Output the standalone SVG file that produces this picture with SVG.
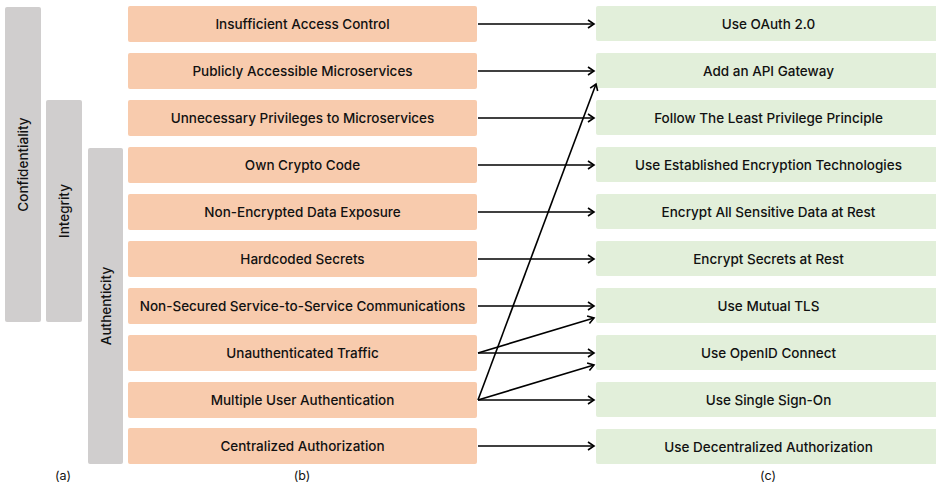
<svg xmlns="http://www.w3.org/2000/svg" width="936" height="488" viewBox="0 0 936 488">
<style>
.bar{fill:#d0cece}
.lb{fill:#f8cbad}
.rb{fill:#e2efda}
.t{font-family:Inter,Lato,"Liberation Sans",sans-serif;font-size:13.5px;font-weight:500;fill:#111;text-anchor:middle;dominant-baseline:central}
.cap{font-family:Inter,Lato,"Liberation Sans",sans-serif;font-size:12.5px;fill:#111;text-anchor:middle}
.c line{stroke:#000;stroke-width:1.6;marker-end:url(#ah)}
</style>
<defs>
<marker id="ah" markerUnits="userSpaceOnUse" markerWidth="12" markerHeight="12" refX="7" refY="5" orient="auto" viewBox="0 0 12 12">
<path d="M1,1 L7,5 L1,9" fill="none" stroke="#000" stroke-width="1.6"/>
</marker>
</defs>
<rect width="936" height="488" fill="#fff"/>
<g id="confidentiality"><rect class="bar" x="5" y="7" width="36" height="315" rx="2"/><text class="t" transform="translate(23,164.5) rotate(-90)">Confidentiality</text></g>
<g id="integrity"><rect class="bar" x="46" y="100" width="36" height="222" rx="2"/><text class="t" transform="translate(64,211) rotate(-90)">Integrity</text></g>
<g id="authenticity"><rect class="bar" x="88" y="148" width="35" height="316" rx="2"/><text class="t" transform="translate(105.5,306) rotate(-90)">Authenticity</text></g>

<g id="p1"><rect class="lb" x="128" y="6" width="349" height="36" rx="2"/><text class="t" x="302.5" y="24">Insufficient Access Control</text></g>
<g id="p2"><rect class="lb" x="128" y="53" width="349" height="36" rx="2"/><text class="t" x="302.5" y="71">Publicly Accessible Microservices</text></g>
<g id="p3"><rect class="lb" x="128" y="100" width="349" height="36" rx="2"/><text class="t" x="302.5" y="118">Unnecessary Privileges to Microservices</text></g>
<g id="p4"><rect class="lb" x="128" y="147" width="349" height="36" rx="2"/><text class="t" x="302.5" y="165">Own Crypto Code</text></g>
<g id="p5"><rect class="lb" x="128" y="194" width="349" height="36" rx="2"/><text class="t" x="302.5" y="212">Non-Encrypted Data Exposure</text></g>
<g id="p6"><rect class="lb" x="128" y="241" width="349" height="36" rx="2"/><text class="t" x="302.5" y="259">Hardcoded Secrets</text></g>
<g id="p7"><rect class="lb" x="128" y="288" width="349" height="36" rx="2"/><text class="t" x="302.5" y="306">Non-Secured Service-to-Service Communications</text></g>
<g id="p8"><rect class="lb" x="128" y="335" width="349" height="36" rx="2"/><text class="t" x="302.5" y="353">Unauthenticated Traffic</text></g>
<g id="p9"><rect class="lb" x="128" y="382" width="349" height="36" rx="2"/><text class="t" x="302.5" y="400">Multiple User Authentication</text></g>
<g id="p10"><rect class="lb" x="128" y="428" width="349" height="36" rx="2"/><text class="t" x="302.5" y="446">Centralized Authorization</text></g>

<g id="s1"><rect class="rb" x="596" y="6" width="345" height="35" rx="2"/><text class="t" x="768.5" y="23.5">Use OAuth 2.0</text></g>
<g id="s2"><rect class="rb" x="596" y="53" width="345" height="35" rx="2"/><text class="t" x="768.5" y="70.5">Add an API Gateway</text></g>
<g id="s3"><rect class="rb" x="596" y="100" width="345" height="35" rx="2"/><text class="t" x="768.5" y="117.5">Follow The Least Privilege Principle</text></g>
<g id="s4"><rect class="rb" x="596" y="147" width="345" height="35" rx="2"/><text class="t" x="768.5" y="164.5">Use Established Encryption Technologies</text></g>
<g id="s5"><rect class="rb" x="596" y="194" width="345" height="35" rx="2"/><text class="t" x="768.5" y="211.5">Encrypt All Sensitive Data at Rest</text></g>
<g id="s6"><rect class="rb" x="596" y="241" width="345" height="35" rx="2"/><text class="t" x="768.5" y="258.5">Encrypt Secrets at Rest</text></g>
<g id="s7"><rect class="rb" x="596" y="288" width="345" height="35" rx="2"/><text class="t" x="768.5" y="305.5">Use Mutual TLS</text></g>
<g id="s8"><rect class="rb" x="596" y="335" width="345" height="35" rx="2"/><text class="t" x="768.5" y="352.5">Use OpenID Connect</text></g>
<g id="s9"><rect class="rb" x="596" y="382" width="345" height="35" rx="2"/><text class="t" x="768.5" y="399.5">Use Single Sign-On</text></g>
<g id="s10"><rect class="rb" x="596" y="429" width="345" height="35" rx="2"/><text class="t" x="768.5" y="446.5">Use Decentralized Authorization</text></g>

<g id="connectors" class="c">
<line x1="478" y1="24" x2="594" y2="24"/>
<line x1="478" y1="71" x2="594" y2="71"/>
<line x1="478" y1="118" x2="594" y2="118"/>
<line x1="478" y1="165" x2="594" y2="165"/>
<line x1="478" y1="212" x2="594" y2="212"/>
<line x1="478" y1="259" x2="594" y2="259"/>
<line x1="478" y1="306" x2="594" y2="306"/>
<line x1="478" y1="353" x2="594" y2="353"/>
<line x1="478" y1="353" x2="594" y2="318"/>
<line x1="478" y1="400" x2="594" y2="400"/>
<line x1="478" y1="400" x2="594" y2="365"/>
<line x1="478" y1="400" x2="596" y2="84"/>
<line x1="478" y1="446" x2="594" y2="446"/>
</g>
<text class="cap" x="63" y="480">(a)</text>
<text class="cap" x="302" y="480">(b)</text>
<text class="cap" x="768" y="480">(c)</text>
</svg>
